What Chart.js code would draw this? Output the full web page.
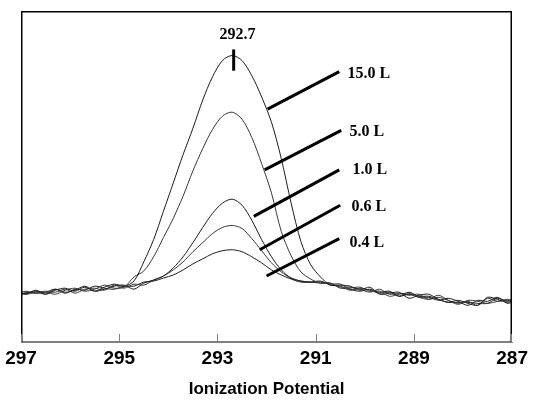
<!DOCTYPE html>
<html>
<head>
<meta charset="utf-8">
<script src="https://cdn.jsdelivr.net/npm/chart.js@4"></script>
<style>
html,body{margin:0;padding:0;background:#fff;}
canvas{display:block;}
</style>
</head>
<body>
<canvas id="c" width="533" height="400"></canvas>
<script>
// ---- data ----
const ionizationPotential = [297.0,296.9,296.7,296.5,296.3,296.1,295.9,295.7,295.5,295.3,295.1,294.9,294.7,294.5,294.3,294.1,293.9,293.7,293.5,293.3,293.1,292.9,292.7,292.5,292.3,292.1,291.9,291.7,291.5,291.3,291.1,290.9,290.7,290.5,290.3,290.1,289.9,289.7,289.5,289.3,289.1,288.9,288.7,288.5,288.3,288.1,287.9,287.7,287.5,287.3,287.1,287.0];
const exposure15L = [49,48,52,48,52,54,51,55,51,55,58,56,61,80,102,130,158,186,212,240,263,279,284,279,264,243,218,182,138,100,77,65,57,57,56,52,55,48,49,50,44,47,48,43,40,42,39,37,45,43,40,41];
const exposure5L  = [50,51,49,50,48,52,54,51,53,57,54,55,65,71,85,104,123,145,170,192,211,224,228,221,203,177,148,110,86,70,63,59,59,54,54,55,51,51,46,48,49,45,43,47,42,38,42,41,39,41,43,42];
const exposure1L  = [48,49,51,48,53,50,52,56,51,53,56,57,53,59,62,66,74,85,99,114,128,138,142,136,121,102,85,72,64,61,60,60,58,58,53,51,53,50,51,46,48,45,45,42,44,41,37,42,41,45,39,40];
const exposure06L = [51,48,50,51,50,53,49,53,54,52,57,54,58,57,62,66,72,80,90,99,108,114,116,113,103,91,79,70,64,61,60,59,59,55,55,53,50,53,48,49,47,48,43,45,42,39,41,37,44,41,42,41];
const exposure04L = [47,50,49,50,53,49,53,52,56,54,53,56,56,60,61,64,67,72,78,83,88,91,92,90,85,79,72,67,63,60,60,61,57,56,52,54,52,49,50,46,50,46,46,43,40,40,40,39,39,44,41,42];
const seriesLabels = ['15.0 L','5.0 L','1.0 L','0.6 L','0.4 L'];
const xTickValues = [297,295,293,291,289,287];
const peakLabel = '292.7';

// ---- annotation anchors (data units) ----
const leaderAnchors = [
  {x0:291.98,y0:231,x1:290.52,y1:268,lx:290.35,ly:266},
  {x0:292.04,y0:171,x1:290.48,y1:210,lx:290.31,ly:209},
  {x0:292.26,y0:125,x1:290.52,y1:171,lx:290.25,ly:171},
  {x0:292.14,y0:92, x1:290.50,y1:136,lx:290.27,ly:134},
  {x0:292.00,y0:66, x1:290.52,y1:103,lx:290.31,ly:99}
];
const peakMark = {x:292.67, y0:269, y1:290, labelX:292.59, labelY:304};
const yTop = 328;

const allSeries = [exposure15L, exposure5L, exposure1L, exposure06L, exposure04L];
const datasets = allSeries.map((arr, si) => ({
  label: seriesLabels[si],
  data: arr.map((v, i) => ({x: ionizationPotential[i], y: v})),
  borderColor: si % 2 ? '#3a3a3a' : '#1e1e1e',
  borderWidth: 1,
  pointRadius: 0,
  tension: 0.3,
  fill: false
}));

const markPlugin = {
  id: 'marks',
  afterDraw(chart) {
    const ctx = chart.ctx;
    const x = chart.scales.x, y = chart.scales.y;
    const B = Math.round(y.getPixelForValue(0));
    const T = Math.round(y.getPixelForValue(yTop));
    const L = Math.round(x.getPixelForValue(297));
    const R = Math.round(x.getPixelForValue(287));
    ctx.save();
    // frame
    ctx.lineWidth = 1.5;
    ctx.strokeStyle = '#000';
    ctx.beginPath();
    ctx.rect(L + 0.75, T + 0.75, (R - L) - 1.5, (B - T) - 1.5);
    ctx.stroke();
    ctx.lineWidth = 1;
    ctx.strokeStyle = '#808080';
    ctx.beginPath();
    ctx.moveTo(L, B - 0.5);
    ctx.lineTo(R, B - 0.5);
    ctx.stroke();
    // inward tick marks
    xTickValues.forEach(v => {
      const px = Math.min(Math.max(Math.round(x.getPixelForValue(v)), L), R - 1) + 0.5;
      ctx.beginPath();
      ctx.moveTo(px, B);
      ctx.lineTo(px, B - 9);
      ctx.stroke();
    });
    // peak marker
    ctx.strokeStyle = '#000';
    ctx.lineWidth = 3;
    ctx.beginPath();
    const pk = x.getPixelForValue(peakMark.x);
    ctx.moveTo(pk, y.getPixelForValue(peakMark.y0));
    ctx.lineTo(pk, y.getPixelForValue(peakMark.y1));
    ctx.stroke();
    ctx.fillStyle = '#000';
    ctx.font = 'bold 16px "Liberation Serif", "Times New Roman", serif';
    ctx.textAlign = 'center';
    ctx.textBaseline = 'middle';
    ctx.fillText(peakLabel, x.getPixelForValue(peakMark.labelX), y.getPixelForValue(peakMark.labelY));
    // leaders
    ctx.textAlign = 'left';
    leaderAnchors.forEach((A, i) => {
      ctx.lineWidth = 3;
      ctx.beginPath();
      ctx.moveTo(x.getPixelForValue(A.x0), y.getPixelForValue(A.y0));
      ctx.lineTo(x.getPixelForValue(A.x1), y.getPixelForValue(A.y1));
      ctx.stroke();
      ctx.fillText(seriesLabels[i], x.getPixelForValue(A.lx), y.getPixelForValue(A.ly));
    });
    ctx.restore();
  }
};

const hiddenTicks = {display: false};
const noGrid = {display: false, drawTicks: false};

new Chart(document.getElementById('c'), {
  type: 'line',
  data: {datasets},
  options: {
    responsive: false,
    animation: false,
    devicePixelRatio: 1,
    layout: {padding: {left: 21, right: 17, top: 11, bottom: 0}},
    plugins: {legend: {display: false}, tooltip: {enabled: false}},
    scales: {
      x: {
        type: 'linear',
        position: 'bottom',
        reverse: true,
        min: 287,
        max: 297,
        afterBuildTicks: (s) => { s.ticks = xTickValues.map(v => ({value: v})); },
        grid: noGrid,
        border: {display: true, color: '#808080', width: 1},
        ticks: {
          padding: 5,
          color: '#000',
          font: {family: '"Liberation Sans", Arial, sans-serif', size: 19, weight: 'bold'},
          maxRotation: 0,
          callback: (v) => String(v)
        },
        title: {
          display: true,
          text: 'Ionization Potential',
          color: '#000',
          font: {family: '"Liberation Sans", Arial, sans-serif', size: 17, weight: 'bold'},
          padding: {top: 4, bottom: 0}
        }
      },
      y: {
        type: 'linear',
        display: false,
        min: 0,
        max: yTop
      }
    }
  },
  plugins: [markPlugin]
});
</script>
</body>
</html>
